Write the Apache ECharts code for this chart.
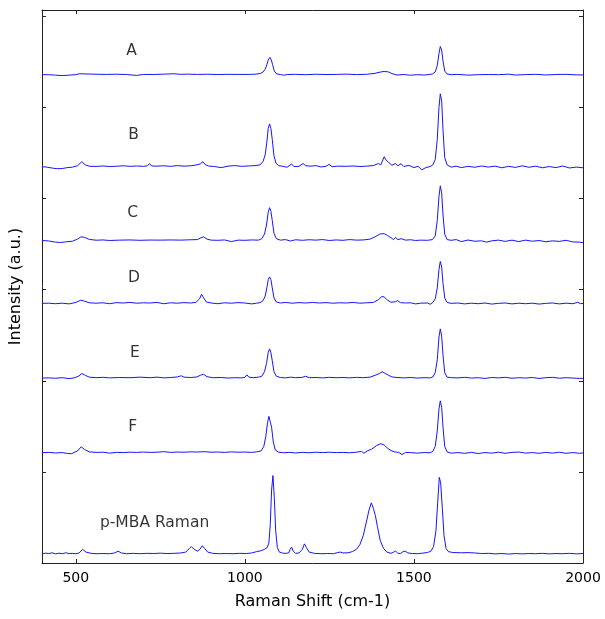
<!DOCTYPE html>
<html>
<head>
<meta charset="utf-8">
<script src="https://cdn.jsdelivr.net/npm/echarts@6/dist/echarts.min.js"></script>
<style>
  html, body { margin: 0; padding: 0; background: #fff; }
  #chart { width: 605px; height: 619px; }
</style>
</head>
<body>
<div id="chart"></div>
<script>
// spectra: [raman shift (cm-1), intensity above own baseline (a.u.)]
const specA = [[400,0],[420,0],[440,-0.005],[460,-0.01],[480,-0.005],[500,0],[510,0.01],[530,0.008],[560,0.005],[590,0.003],[620,0.005],[650,0.002],[680,-0.008],[700,0.003],[730,0.002],[760,0.006],[790,0.01],[810,0.004],[830,0.006],[860,0.003],[890,0.005],[920,0.002],[950,0.004],[980,0.003],[1010,0.003],[1030,0.005],[1045,0.012],[1054,0.03],[1060,0.06],[1065,0.11],[1069,0.16],[1074,0.19],[1078,0.165],[1082,0.11],[1087,0.04],[1094,0.008],[1105,0.002],[1115,-0.006],[1125,0.002],[1150,0.004],[1180,0],[1210,0.005],[1240,0.002],[1270,0.003],[1300,0.006],[1330,0.001],[1360,0.004],[1385,0.015],[1400,0.028],[1412,0.036],[1425,0.03],[1435,0.012],[1450,-0.004],[1470,0.002],[1490,-0.006],[1510,0],[1530,-0.004],[1545,0.002],[1555,0.008],[1563,0.03],[1569,0.1],[1574,0.23],[1578,0.31],[1582,0.27],[1586,0.15],[1591,0.04],[1598,0.008],[1610,0],[1630,0.003],[1660,-0.005],[1690,0],[1720,0.002],[1750,0],[1780,0.006],[1800,-0.004],[1830,0.001],[1860,0.004],[1890,-0.003],[1920,0.002],[1950,0.004],[1980,-0.002],[2000,-0.003]];

const specB = [[400,0],[415,-0.005],[430,-0.015],[445,-0.022],[460,-0.02],[475,-0.01],[490,-0.005],[505,0.01],[518,0.055],[528,0.02],[540,0.005],[560,0.003],[580,0.008],[600,0.002],[620,0.005],[640,0.01],[660,0.004],[680,0.008],[700,0.004],[712,0.01],[718,0.035],[724,0.008],[740,0.006],[760,0.01],[780,0.004],[800,0.012],[820,0.006],[840,0.01],[855,0.018],[868,0.03],[876,0.055],[882,0.025],[892,0.008],[910,0.002],[930,-0.01],[950,0.006],[970,0.012],[990,0.004],[1010,0.008],[1030,0.012],[1045,0.02],[1054,0.06],[1060,0.13],[1065,0.27],[1069,0.42],[1073,0.47],[1077,0.42],[1081,0.3],[1086,0.12],[1092,0.04],[1100,0.01],[1110,0.006],[1125,-0.006],[1138,0.03],[1145,0.002],[1160,0.004],[1172,0.035],[1180,0.01],[1195,0.006],[1210,0.012],[1225,-0.003],[1240,0.004],[1249,0.025],[1258,0],[1275,0.006],[1300,0.004],[1320,0.008],[1340,0.002],[1360,0.006],[1380,0.012],[1395,0.035],[1402,0.02],[1412,0.11],[1418,0.07],[1426,0.045],[1435,0.015],[1445,0.035],[1452,0.01],[1462,0.032],[1470,0.002],[1485,0.015],[1500,-0.01],[1512,0.005],[1523,-0.035],[1535,-0.01],[1548,0.002],[1556,0.02],[1563,0.08],[1569,0.3],[1574,0.65],[1578,0.8],[1582,0.72],[1586,0.4],[1591,0.1],[1598,0.02],[1610,-0.005],[1625,0.006],[1640,-0.01],[1660,0.004],[1680,-0.006],[1700,0.008],[1720,-0.004],[1740,0.006],[1760,-0.012],[1780,0.004],[1800,-0.008],[1820,0.01],[1840,-0.006],[1860,0.006],[1880,-0.012],[1900,0.002],[1920,-0.01],[1940,0.008],[1960,-0.014],[1980,-0.004],[2000,-0.012]];

const specC = [[400,0],[420,-0.005],[440,-0.018],[455,-0.022],[470,-0.015],[490,-0.008],[505,0.015],[515,0.04],[525,0.035],[540,0.012],[560,0.003],[580,0.006],[600,0],[630,0.004],[660,0.006],[690,0.002],[720,0.005],[750,0.004],[780,0.006],[810,0.004],[840,0.008],[860,0.01],[870,0.03],[878,0.04],[888,0.015],[900,0.004],[920,0.002],[940,0.006],[960,-0.012],[980,0.004],[1000,0.002],[1020,0.006],[1040,0.004],[1050,0.02],[1058,0.07],[1064,0.17],[1069,0.31],[1073,0.36],[1077,0.32],[1081,0.22],[1086,0.08],[1093,0.02],[1105,0.004],[1120,0.01],[1135,-0.006],[1150,0.008],[1170,0.002],[1190,0.008],[1210,0.004],[1230,0.01],[1250,0],[1270,0.006],[1290,0.002],[1310,0.01],[1330,0.004],[1350,0.006],[1370,0.015],[1385,0.04],[1400,0.072],[1412,0.075],[1422,0.055],[1432,0.03],[1440,0.01],[1446,0.035],[1452,0.008],[1462,0.02],[1475,0.004],[1490,0.008],[1505,0],[1520,0.004],[1540,0.002],[1555,0.01],[1563,0.05],[1569,0.22],[1574,0.48],[1578,0.6],[1582,0.52],[1586,0.28],[1591,0.07],[1598,0.01],[1610,0.002],[1625,0.01],[1640,-0.012],[1660,0.005],[1680,-0.008],[1700,-0.004],[1715,-0.018],[1730,-0.004],[1750,0.004],[1770,-0.01],[1790,0.004],[1810,-0.012],[1830,0.004],[1850,-0.008],[1870,0],[1890,-0.014],[1910,-0.004],[1930,-0.01],[1950,0.002],[1970,-0.016],[1990,-0.018],[2000,-0.024]];

const specD = [[400,0],[420,0.002],[440,-0.004],[460,0.002],[480,-0.006],[500,0.01],[515,0.035],[525,0.025],[540,0.006],[560,0.002],[580,0.006],[600,-0.004],[620,0.008],[640,0.004],[660,0.01],[680,0.002],[700,0.006],[720,0.004],[740,0.01],[760,-0.004],[780,0.006],[800,0.002],[820,0.008],[840,0.004],[855,0.01],[866,0.05],[872,0.1],[878,0.06],[886,0.015],[900,0.004],[920,-0.004],[940,0.006],[960,0.002],[980,0.008],[1000,0.004],[1020,-0.006],[1035,0.002],[1045,0.008],[1054,0.03],[1060,0.08],[1065,0.17],[1069,0.26],[1073,0.29],[1077,0.26],[1081,0.17],[1086,0.06],[1093,0.015],[1105,0.004],[1120,0.01],[1140,0.002],[1160,0.008],[1180,0.004],[1200,0.01],[1220,0.004],[1240,0.008],[1260,0.002],[1280,0.006],[1300,0.004],[1320,0.01],[1340,0.002],[1360,0.006],[1380,0.01],[1395,0.04],[1405,0.075],[1412,0.07],[1422,0.035],[1432,0.012],[1445,0.018],[1452,0.03],[1460,0.008],[1475,0.004],[1490,0.006],[1505,-0.006],[1520,0.002],[1540,0.004],[1548,-0.01],[1556,0.01],[1563,0.05],[1569,0.17],[1574,0.37],[1578,0.46],[1582,0.4],[1586,0.22],[1591,0.06],[1598,0.01],[1610,0],[1630,0.004],[1650,-0.006],[1670,0.002],[1690,-0.004],[1710,0.004],[1730,-0.008],[1750,0],[1770,0.004],[1790,-0.006],[1810,0.002],[1830,-0.004],[1850,0.002],[1870,-0.008],[1890,0],[1910,0.004],[1930,-0.006],[1950,0.002],[1970,-0.004],[1985,0.012],[1992,-0.004],[2000,0]];

const specE = [[400,0],[420,0.002],[440,-0.002],[460,0.004],[480,-0.006],[495,0.002],[508,0.02],[518,0.05],[528,0.03],[540,0.01],[560,0.004],[580,0.008],[600,0.002],[630,0.006],[660,0.004],[690,0.01],[720,0.004],[740,0.01],[760,0.002],[780,0.006],[800,0.012],[812,0.025],[820,0.01],[840,0.006],[858,0.012],[868,0.03],[878,0.042],[888,0.015],[905,0.004],[930,0.006],[950,0],[970,0.004],[990,0.002],[1000,0.008],[1006,0.035],[1012,0.01],[1025,0.004],[1040,0.01],[1050,0.02],[1058,0.07],[1064,0.16],[1069,0.28],[1073,0.32],[1077,0.28],[1081,0.19],[1086,0.07],[1093,0.02],[1105,0.006],[1120,0.002],[1135,0.01],[1150,0.004],[1170,0.008],[1180,0.02],[1190,0.004],[1210,0.006],[1230,0.002],[1250,0.008],[1270,0.004],[1290,0.006],[1310,0.002],[1330,0.008],[1350,0.004],[1370,0.01],[1385,0.03],[1398,0.05],[1406,0.07],[1415,0.05],[1425,0.03],[1435,0.012],[1450,0.006],[1470,0.002],[1490,0.006],[1510,0],[1530,0.004],[1548,0.002],[1556,0.012],[1563,0.06],[1569,0.2],[1574,0.45],[1578,0.54],[1582,0.46],[1586,0.25],[1591,0.06],[1598,0.01],[1612,0.004],[1630,0.002],[1650,0.008],[1670,0],[1690,0.004],[1710,-0.004],[1730,0.006],[1750,0.002],[1770,0.008],[1790,-0.002],[1810,0.004],[1830,0],[1850,0.006],[1870,-0.004],[1890,0.004],[1910,0.008],[1930,-0.002],[1950,0.004],[1970,0],[1990,-0.004],[2000,-0.002]];

const specF = [[400,0],[420,0.004],[440,-0.002],[460,0.002],[475,-0.008],[488,-0.01],[495,0.004],[505,0.02],[516,0.065],[526,0.035],[540,0.01],[560,0.004],[580,0.006],[600,-0.004],[620,0.004],[640,0.002],[660,0.006],[680,0.004],[700,0.008],[720,0.004],[740,0.006],[760,0.012],[780,0.004],[800,0.008],[820,0.006],[840,0.01],[860,0.008],[880,0.012],[900,0.006],[920,0.008],[940,0.004],[960,0.01],[980,0.006],[1000,0.008],[1020,0.004],[1035,0.01],[1048,0.02],[1056,0.07],[1062,0.18],[1067,0.33],[1071,0.4],[1075,0.38],[1079,0.28],[1084,0.12],[1090,0.03],[1100,0.006],[1115,0],[1130,0.004],[1150,-0.002],[1170,0.004],[1190,0],[1210,0.006],[1230,0.002],[1250,0.006],[1270,0.002],[1290,0.004],[1310,0],[1330,0.006],[1345,0.015],[1352,-0.005],[1362,0.02],[1375,0.04],[1390,0.08],[1402,0.1],[1412,0.085],[1422,0.05],[1432,0.025],[1442,0.01],[1455,0.004],[1465,-0.02],[1475,0.004],[1490,0.002],[1510,-0.004],[1530,0.002],[1548,0],[1556,0.015],[1563,0.07],[1569,0.24],[1574,0.48],[1578,0.57],[1582,0.5],[1586,0.28],[1591,0.07],[1598,0.01],[1610,-0.004],[1630,0.002],[1650,-0.006],[1670,0.004],[1690,-0.008],[1710,0.002],[1730,-0.004],[1750,0.006],[1770,-0.006],[1790,0.004],[1810,0.008],[1830,-0.004],[1850,0.002],[1870,-0.006],[1890,0.004],[1910,-0.004],[1930,0.006],[1950,-0.006],[1970,0.002],[1990,-0.006],[2000,-0.002]];

const specMBA = [[400,0],[410,0.008],[420,0.004],[430,0.012],[440,0],[450,0.008],[460,0.002],[470,0.012],[480,0.004],[490,0.006],[500,0.002],[510,0.01],[520,0.05],[530,0.02],[545,0.006],[560,0.002],[580,0.004],[600,0.002],[615,0.01],[625,0.03],[635,0.01],[650,0.002],[670,0.006],[690,0.002],[710,0.006],[730,0.004],[750,0.008],[770,0.004],[790,0.006],[810,0.01],[825,0.02],[836,0.06],[842,0.08],[850,0.05],[860,0.03],[867,0.05],[874,0.09],[881,0.06],[890,0.02],[905,0.006],[925,0.002],[945,0.004],[965,0.002],[985,0.006],[1005,0.004],[1020,0.01],[1035,0.025],[1048,0.035],[1058,0.05],[1066,0.07],[1071,0.12],[1075,0.32],[1079,0.7],[1083,0.86],[1087,0.62],[1091,0.26],[1096,0.07],[1102,0.02],[1112,0.008],[1122,0.006],[1130,0.012],[1134,0.05],[1138,0.075],[1143,0.03],[1150,0.006],[1160,0.01],[1170,0.05],[1176,0.11],[1182,0.07],[1190,0.02],[1205,0.006],[1225,0.002],[1245,0.004],[1262,0.002],[1275,0.015],[1282,0.02],[1290,0.01],[1305,0.012],[1318,0.025],[1330,0.05],[1340,0.1],[1350,0.2],[1360,0.36],[1367,0.48],[1374,0.56],[1380,0.5],[1386,0.42],[1392,0.3],[1400,0.15],[1410,0.06],[1420,0.02],[1432,0.006],[1440,0.02],[1446,0.03],[1452,0.008],[1460,0.004],[1468,0.025],[1474,0.03],[1482,0.01],[1495,0.004],[1510,0.002],[1525,0.008],[1540,0.015],[1550,0.03],[1558,0.08],[1565,0.25],[1570,0.55],[1575,0.84],[1579,0.78],[1584,0.5],[1589,0.2],[1595,0.06],[1602,0.025],[1615,0.015],[1640,0.012],[1660,0.014],[1680,0.01],[1700,0.004],[1720,0.006],[1740,0],[1760,0.004],[1780,-0.002],[1800,0.004],[1820,0],[1840,0.004],[1860,0.002],[1880,0.006],[1900,0],[1920,0.004],[1940,0.002],[1960,0.006],[1980,0],[2000,0.004]];

const spectra = [specA, specB, specC, specD, specE, specF, specMBA];
const sampleNames = ['A', 'B', 'C', 'D', 'E', 'F', 'p-MBA Raman'];
// vertical offset of each trace in the stack
const offsets = [5.36, 4.35, 3.54, 2.85, 2.03, 1.21, 0.10];
// where each name sits, [shift, intensity]
const namePos = [[665, 5.62], [671, 4.70], [668, 3.84], [672, 3.13], [675, 2.31], [668, 1.49], [733, 0.44]];

const xTicks = [500, 1000, 1500, 2000];
const yTicks = [0, 1, 2, 3, 4, 5, 6];

const font = 'DejaVu Sans, Arial, sans-serif';
const axisColor = '#222';

let myChart = echarts.init(document.getElementById('chart'));

let series = spectra.map((s, i) => ({
  name: sampleNames[i],
  type: 'line',
  showSymbol: false,
  symbol: 'none',
  animation: false,
  lineStyle: { width: 1, color: '#1414ff' },
  data: s.map(p => [p[0], p[1] + offsets[i]])
}));

series.push({
  type: 'scatter',
  symbolSize: 0,
  animation: false,
  silent: true,
  data: namePos.map((p, i) => ({ value: p, name: sampleNames[i] })),
  label: {
    show: true,
    position: 'inside',
    formatter: '{b}',
    color: '#000',
    fontSize: 15.5,
    fontFamily: font
  }
});

myChart.setOption({
  animation: false,
  grid: {
    left: 42,
    right: 22,
    top: 10,
    bottom: 56,
    outerBoundsMode: 'none'
  },
  xAxis: [
    {
      type: 'value',
      min: 400,
      max: 2000,
      name: 'Raman Shift (cm-1)',
      nameLocation: 'middle',
      nameGap: 31,
      nameTextStyle: { color: '#000', fontSize: 16, fontFamily: font },
      axisLine: { show: true, onZero: false, lineStyle: { color: axisColor, width: 1 } },
      axisTick: { show: true, inside: true, length: 4, customValues: xTicks, lineStyle: { color: axisColor } },
      axisLabel: {
        show: true,
        customValues: xTicks,
        margin: 8,
        color: '#000',
        fontSize: 14,
        fontFamily: font,
        formatter: v => String(v)
      },
      splitLine: { show: false }
    },
    {
      type: 'value',
      position: 'top',
      min: 400,
      max: 2000,
      axisLine: { show: true, onZero: false, lineStyle: { color: axisColor, width: 1 } },
      axisTick: { show: true, inside: true, length: 4, customValues: xTicks, lineStyle: { color: axisColor } },
      axisLabel: { show: false },
      splitLine: { show: false }
    }
  ],
  yAxis: [
    {
      type: 'value',
      min: 0,
      max: 6.07,
      name: 'Intensity (a.u.)',
      nameLocation: 'middle',
      nameGap: 18,
      nameTextStyle: { color: '#000', fontSize: 16, fontFamily: font },
      axisLine: { show: true, onZero: false, lineStyle: { color: axisColor, width: 1 } },
      axisTick: { show: true, inside: true, length: 4, customValues: yTicks, lineStyle: { color: axisColor } },
      axisLabel: { show: false },
      splitLine: { show: false }
    },
    {
      type: 'value',
      position: 'right',
      min: 0,
      max: 6.07,
      axisLine: { show: true, onZero: false, lineStyle: { color: axisColor, width: 1 } },
      axisTick: { show: true, inside: true, length: 4, customValues: yTicks, lineStyle: { color: axisColor } },
      axisLabel: { show: false },
      splitLine: { show: false }
    }
  ],
  series: series
});
</script>
</body>
</html>
